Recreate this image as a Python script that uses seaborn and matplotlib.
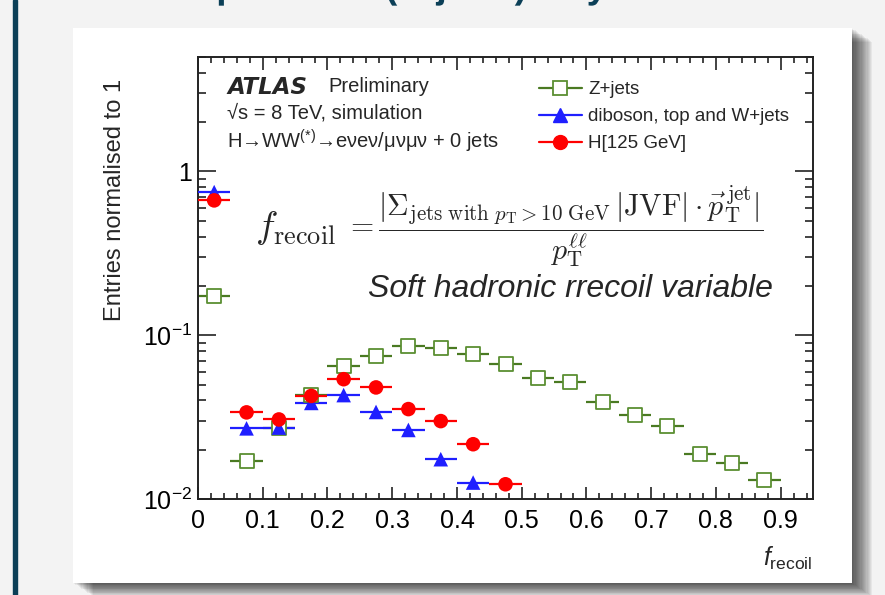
import matplotlib
matplotlib.use("Agg")
import matplotlib.pyplot as plt
import matplotlib.ticker as mticker
from matplotlib.patches import Rectangle, PathPatch
from matplotlib.lines import Line2D
from matplotlib.textpath import TextPath
from matplotlib.font_manager import FontProperties
from matplotlib.transforms import Affine2D
import seaborn as sns
import pandas as pd

# bin centres (bin width 0.05) and normalised entries
bin_width = 0.05
z_centres = [0.025, 0.075, 0.125, 0.175, 0.225, 0.275, 0.325, 0.375, 0.425,
             0.475, 0.525, 0.575, 0.625, 0.675, 0.725, 0.775, 0.825, 0.875]
z_jets = [0.173, 0.0171, 0.0272, 0.0431, 0.065, 0.0748, 0.0857, 0.084, 0.0773,
          0.0672, 0.0547, 0.0517, 0.039, 0.0324, 0.0281, 0.0189, 0.0165, 0.0131]
db_centres = [0.025, 0.075, 0.125, 0.175, 0.225, 0.275, 0.325, 0.375, 0.425]
diboson = [0.748, 0.027, 0.0273, 0.0386, 0.0431, 0.034, 0.0264, 0.0175, 0.0126]
h_centres = [0.025, 0.075, 0.125, 0.175, 0.225, 0.275, 0.325, 0.375, 0.425, 0.475]
higgs = [0.666, 0.0338, 0.0306, 0.0426, 0.0539, 0.048, 0.0354, 0.0299, 0.0216, 0.0123]

labels = ["Z+jets", "diboson, top and W+jets", "H[125 GeV]"]
colors = {"Z+jets": "#4a7a22", "diboson, top and W+jets": "#1f1fff", "H[125 GeV]": "#ff0000"}
markers = {"Z+jets": "s", "diboson, top and W+jets": "^", "H[125 GeV]": "o"}

df = pd.concat([
    pd.DataFrame({"x": z_centres, "y": z_jets, "sample": labels[0]}),
    pd.DataFrame({"x": db_centres, "y": diboson, "sample": labels[1]}),
    pd.DataFrame({"x": h_centres, "y": higgs, "sample": labels[2]}),
], ignore_index=True)

sns.set_theme(style="ticks")
plt.rcParams["font.family"] = ["Liberation Sans", "DejaVu Sans"]
plt.rcParams["mathtext.fontset"] = "custom"
plt.rcParams["mathtext.rm"] = "Liberation Sans"
plt.rcParams["mathtext.it"] = "Liberation Sans:italic"
plt.rcParams["mathtext.bf"] = "Liberation Sans:bold"

W, H = 885, 595
fig = plt.figure(figsize=(W / 100, H / 100), dpi=100, facecolor="#f3f3f3")


def fx(x):
    return x / W


def fy(y):
    return 1 - y / H


# slide decoration: left bar, cut-off slide title (only descenders show),
# white panel with drop shadow
fig.add_artist(Rectangle((fx(13), 0), fx(4), 1, transform=fig.transFigure,
                         color="#0b3f57", zorder=0))
title_font = FontProperties(family="Liberation Sans", weight="bold")
for ch, xpos in [("p", 228), ("(", 392), ("j", 440), (")", 520), ("y", 597)]:
    tp = TextPath((0, 0), ch, size=37, prop=title_font)
    ext = tp.get_extents()
    tr = Affine2D().translate(xpos - (ext.x0 + ext.x1) / 2, H + 2)
    fig.add_artist(PathPatch(tp, transform=tr, color="#0b3f57", lw=0, zorder=1))
for k in range(1, 18):
    fig.add_artist(Rectangle((fx(73 + k * 1.2), fy(583 + k * 0.8)), fx(779), 555 / H,
                             transform=fig.transFigure, color="black",
                             alpha=0.05, lw=0, zorder=0))
fig.add_artist(Rectangle((fx(73), fy(583)), fx(779), 555 / H,
                         transform=fig.transFigure, color="white", lw=0, zorder=0))

ax = fig.add_axes([fx(198), fy(499), fx(615), 442 / H])
ax.set_facecolor("white")

series = [(z_centres, z_jets, labels[0]), (db_centres, diboson, labels[1]),
          (h_centres, higgs, labels[2])]
for i, (xc, yv, lab) in enumerate(series):
    ax.errorbar(xc, yv, xerr=bin_width / 2, fmt="none", ecolor=colors[lab],
                elinewidth=1.6, capsize=0, zorder=2 + i)

sns.scatterplot(data=df[df["sample"] == labels[0]], x="x", y="y", marker="s", s=95,
                facecolor="white", edgecolor="#5a8f32", linewidth=1.3,
                legend=False, ax=ax, zorder=3)
sns.scatterplot(data=df[df["sample"] != labels[0]], x="x", y="y", hue="sample",
                style="sample", palette=colors, markers=markers, s=110,
                linewidth=0, legend=False, ax=ax, zorder=5)

ax.set_yscale("log")
ax.set_xlim(0, 0.95)
ax.set_ylim(0.01, 5)
ax.set_xlabel("")
ax.set_ylabel("")

ax.xaxis.set_major_locator(mticker.MultipleLocator(0.1))
ax.xaxis.set_minor_locator(mticker.MultipleLocator(0.02))
ax.xaxis.set_major_formatter(mticker.FuncFormatter(lambda v, p: f"{v:g}"))
ax.yaxis.set_major_locator(mticker.FixedLocator([0.01, 0.1, 1]))
ax.yaxis.set_major_formatter(mticker.FixedFormatter(["$10^{-2}$", "$10^{-1}$", "1"]))
ax.yaxis.set_minor_locator(mticker.LogLocator(base=10, subs=range(2, 10)))
ax.yaxis.set_minor_formatter(mticker.NullFormatter())

ax.tick_params(axis="both", which="both", direction="in", top=True, right=True,
               colors="#222222", labelcolor="black", width=1.2, labelsize=18)
ax.tick_params(axis="x", which="major", length=9, pad=7)
ax.tick_params(axis="x", which="minor", length=4.5)
ax.tick_params(axis="y", which="major", length=13, pad=4)
ax.tick_params(axis="y", which="minor", length=6)
for s in ax.spines.values():
    s.set_linewidth(1.4)
    s.set_color("#222222")

fig.text(fx(115), fy(200), "Entries normalised to 1", rotation=90, ha="center",
         va="center", fontsize=17)
fig.text(fx(813), fy(566), r"$f_{\mathrm{recoil}}$", ha="right", va="baseline",
         fontsize=18)

# ATLAS label block
ax.text((227 - 198) / 615, (499 - 87) / 442, "ATLAS", transform=ax.transAxes,
        fontsize=16.5, fontweight="bold", fontstyle="italic", va="center",
        family=["DejaVu Sans"])
ax.text((328 - 198) / 615, (499 - 87) / 442, "Preliminary", transform=ax.transAxes,
        fontsize=14.5, va="center")
ax.text((227 - 198) / 615, (499 - 113) / 442, "√s = 8 TeV, simulation",
        transform=ax.transAxes, fontsize=14.5, va="center")
ax.text((227 - 198) / 615, (499 - 141) / 442,
        r"H→WW$^{(*)}$→eνeν/μνμν + 0 jets", transform=ax.transAxes,
        fontsize=14.5, va="center")

handles = [
    Line2D([], [], color=colors[labels[0]], lw=1.6, marker="s", ms=9.5,
           mfc="white", mec="#5a8f32", mew=1.3),
    Line2D([], [], color=colors[labels[1]], lw=1.6, marker="^", ms=10),
    Line2D([], [], color=colors[labels[2]], lw=1.6, marker="o", ms=10),
]
ax.legend(handles, labels, loc="upper left", bbox_to_anchor=((531 - 198) / 615, 0.962),
          frameon=False, fontsize=13.5, handlelength=2.3, handletextpad=0.35,
          labelspacing=0.52, borderaxespad=0)

# formula and caption
fig.text(fx(255), fy(238), r"$f_{\mathrm{recoil}}$",
         math_fontfamily="cm", fontsize=27, va="baseline", ha="left")
fig.text(fx(345), fy(227),
         r"$=\dfrac{|\Sigma_{\mathrm{jets\ with}\ p_{\mathrm{T}}>10\ \mathrm{GeV}}\,|\mathrm{JVF}|\cdot\vec{p}_{\mathrm{T}}^{\,\mathrm{jet}}|}{p_{\mathrm{T}}^{\ell\ell}}$",
         math_fontfamily="cm", fontsize=21.5, va="center", ha="left")
fig.text(fx(368), fy(289), "Soft hadronic rrecoil variable", fontsize=23,
         fontstyle="italic", va="center", ha="left")

fig.savefig("out.png", dpi=100, facecolor=fig.get_facecolor())
